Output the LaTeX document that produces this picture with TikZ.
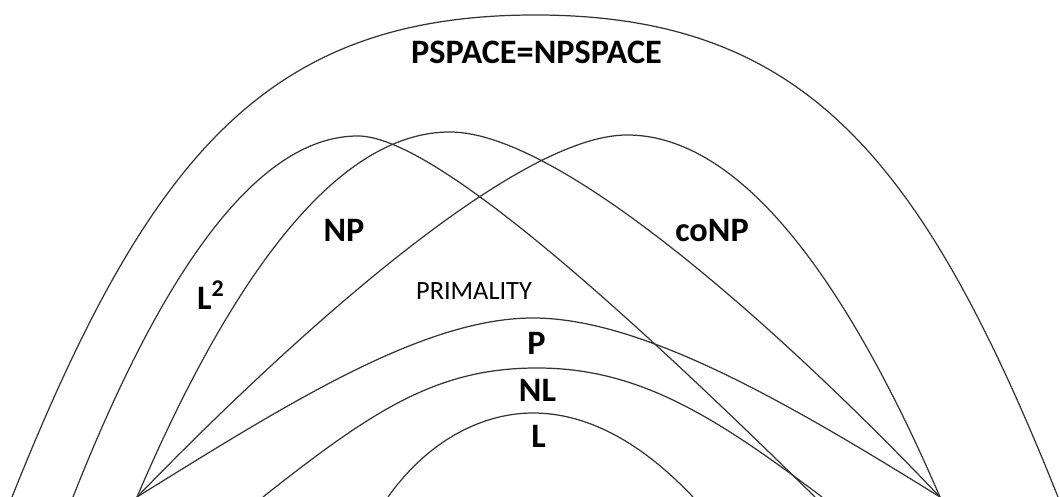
\documentclass[tikz,border=0pt]{standalone}
\usepackage{fontspec}
\setmainfont{Carlito}

\begin{document}
\begin{tikzpicture}[scale=1.0,
  classline/.style={black!80, line width=0.7pt},
  classname/.style={anchor=base, inner sep=0pt, font=\fontsize{19.5}{22}\selectfont\bfseries},
  problem/.style={anchor=base, inner sep=0pt, font=\fontsize{15}{18}\selectfont}]
\useasboundingbox (0,0) rectangle (21.2,9.94);
% outer class
\draw[classline] (0.24,0) .. controls (2.96,6.8) and (5.32,9.64) .. (10.7,9.64)
  .. controls (16.08,9.64) and (18.44,6.8) .. (21.16,0);
% L^2
\draw[classline] (1.46,0) .. controls (3.36,4.82) and (5.26,7.22) .. (7.16,7.22)
  .. controls (8.8,7.22) and (13.2,3.04) .. (16.3,0);
% NP and coNP, mirror images of each other
\draw[classline] (2.74,0) .. controls (4.82,4.86) and (6.92,7.3) .. (9.0,7.3)
  .. controls (11.2,7.3) and (15.6,3.36) .. (18.8,0);
\draw[classline] (2.74,0) .. controls (5.94,3.3) and (10.34,7.24) .. (12.54,7.24)
  .. controls (14.62,7.24) and (16.72,4.82) .. (18.8,0);
% P
\draw[classline] (2.74,0) .. controls (5.74,1.86) and (8.46,3.58) .. (10.66,3.58)
  .. controls (12.86,3.58) and (15.8,1.86) .. (18.8,0);
% NL
\draw[classline] (5.26,0) .. controls (7.46,1.74) and (8.74,2.58) .. (10.74,2.58)
  .. controls (12.74,2.58) and (14.24,1.66) .. (16.44,0);
% L
\draw[classline] (7.76,0) .. controls (8.6,1.18) and (9.7,1.68) .. (10.66,1.68)
  .. controls (11.72,1.68) and (12.8,1.12) .. (13.86,0);
% names
\node[classname] (pspace) at (10.73,8.66) {PSPACE=NPSPACE};
\node[classname] (np) at (6.88,5.1) {NP};
\node[classname] (conp) at (14.24,5.1) {coNP};
\node[classname] (ltwo) at (4.22,3.74) {L\textsuperscript{2}};
\node[problem] (primality) at (9.48,3.94) {PRIMALITY};
\node[classname] (p) at (10.73,2.84) {P};
\node[classname] (nl) at (10.75,1.9) {NL};
\node[classname] (l) at (10.77,0.98) {L};
\end{tikzpicture}
\end{document}
